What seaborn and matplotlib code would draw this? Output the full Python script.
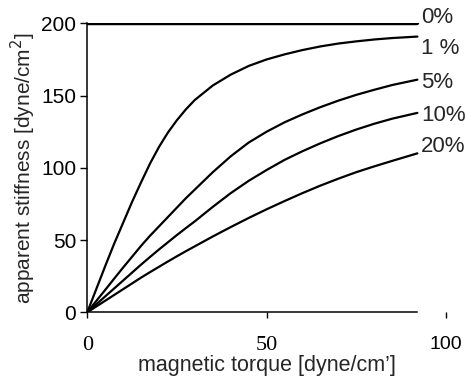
import numpy as np
import pandas as pd
import matplotlib
matplotlib.use("Agg")
import matplotlib.pyplot as plt
import seaborn as sns

# magnetic torque [dyne/cm] and apparent stiffness [dyne/cm^2] for each strain level
torque = [0, 2.5, 5, 7.5, 10, 12.5, 15, 17.5, 20, 22.5, 25, 27.5, 30,
          35, 40, 45, 50, 55, 60, 65, 70, 75, 80, 85, 92]
stiff_0 = [200] * len(torque)
stiff_1 = [0, 16, 32, 47.5, 62, 76.5, 90, 103, 114.5, 124.5, 133, 140.5, 147,
           157, 164.5, 170.5, 175, 178.5, 181.5, 184, 186, 187.5, 188.8, 189.8, 190.8]
stiff_5 = [0, 7.8, 15.5, 23.3, 31, 38.5, 46, 53, 59.5, 66, 72.5, 79, 85,
           97, 108, 117.5, 125, 131.5, 137, 142, 146.5, 150.5, 154, 157.3, 161]
stiff_10 = [0, 5.5, 11, 16.5, 22, 27.5, 33, 38.3, 43.5, 48.5, 53.5, 58.3, 63,
            73, 82.5, 91, 98.5, 105.5, 111.5, 117, 122, 126.5, 130.5, 134, 138]
stiff_20 = [0, 4, 8, 12, 16, 20, 24, 27.8, 31.5, 35.2, 38.8, 42.3, 45.7,
            52.5, 59, 65.3, 71.3, 77, 82.5, 87.7, 92.5, 97, 101, 104.8, 110]

labels = ["0%", "1 %", "5%", "10%", "20%"]
label_y = [203.7, 182.7, 158.7, 136, 114.4]

n = len(torque)
df = pd.DataFrame({
    "torque": torque * 4,
    "stiffness": stiff_1 + stiff_5 + stiff_10 + stiff_20,
    "strain": ["1"] * n + ["5"] * n + ["10"] * n + ["20"] * n,
})

sns.set_style("ticks")
plt.rcParams["font.family"] = ["Liberation Sans", "DejaVu Sans"]

fig = plt.figure(figsize=(4.66, 3.8), dpi=100)
ax = fig.add_axes([0.1873, 0.1782, 0.77, 0.7605])

sns.lineplot(data=df, x="torque", y="stiffness", hue="strain",
             palette=["black"] * 4, linewidth=1.6, legend=False, ax=ax)
sns.lineplot(x=torque, y=stiff_0, color="black", linewidth=3.2, ax=ax)

ax.set_xlim(0, 100)
ax.set_ylim(0, 200)

for lab, y in zip(labels, label_y):
    ax.text(93.0, y, lab, fontsize=16, va="center", ha="left", clip_on=False)

sns.despine(ax=ax)
ax.spines["bottom"].set_bounds(0, 92)
for s in ["left", "bottom"]:
    ax.spines[s].set_linewidth(1.1)
    ax.spines[s].set_color("black")

ax.set_yticks([0, 50, 100, 150, 200])
ax.tick_params(axis="y", labelsize=15, length=5, width=1, pad=3, colors="black")
ax.set_xticks([0, 50, 100])
ax.set_xticklabels(["0", "50", "100"])
ax.tick_params(axis="x", labelsize=15, length=4, width=1, pad=13, colors="black")
xt = ax.get_xticklabels()
for t in xt[:2]:
    t.set_family(["Liberation Serif", "DejaVu Serif"])
    t.set_fontsize(16)
xt[2].set_fontsize(14)

ax.set_xlabel("magnetic torque [dyne/cm\u2019]", fontsize=15.5, labelpad=0)
ax.set_ylabel("apparent stiffness [dyne/cm$^2$]", fontsize=15, labelpad=2)

fig.savefig("out.png", dpi=100)
